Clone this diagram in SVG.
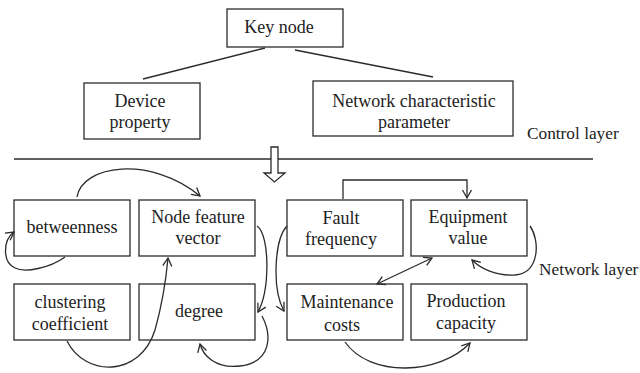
<svg xmlns="http://www.w3.org/2000/svg" width="640" height="373" viewBox="0 0 640 373">
  <style>
    .box { fill: #ffffff; stroke: #2b2b2b; stroke-width: 1.3; }
    .ln { fill: none; stroke: #2b2b2b; stroke-width: 1.3; }
    .txt { font-family: "Liberation Serif", "Times New Roman", serif; font-size: 18px; fill: #222222; text-anchor: middle; }
    .lbl { font-family: "Liberation Serif", "Times New Roman", serif; font-size: 17.3px; fill: #222222; }
  </style>
  <defs>
    <marker id="arr" markerWidth="12" markerHeight="12" refX="9" refY="5" orient="auto-start-reverse" markerUnits="userSpaceOnUse" viewBox="0 0 12 10">
      <path d="M1,0.5 L9,5 L1,9.5" fill="none" stroke="#2b2b2b" stroke-width="1.3"/>
    </marker>
  </defs>

  <!-- control layer -->
  <g id="key-node">
    <rect class="box" x="227" y="9" width="116" height="38"/>
    <text class="txt" x="279" y="33">Key node</text>
  </g>
  <g id="device-property">
    <rect class="box" x="84" y="83" width="116" height="56"/>
    <text class="txt" x="140" y="107">Device</text>
    <text class="txt" x="140" y="128">property</text>
  </g>
  <g id="network-characteristic">
    <rect class="box" x="313" y="81" width="200" height="55"/>
    <text class="txt" x="414" y="107">Network characteristic</text>
    <text class="txt" x="414" y="128">parameter</text>
  </g>
  <text class="lbl" x="527" y="139">Control layer</text>

  <!-- layer divider and hollow down arrow -->
  <line class="ln" x1="14" y1="159" x2="593" y2="159"/>
  <path class="box" d="M271,147 H278 V173 H285 L274.5,182 L264,173 H271 Z"/>

  <!-- network layer nodes -->
  <g id="betweenness">
    <rect class="box" x="14" y="200" width="116" height="56"/>
    <text class="txt" x="72" y="233">betweenness</text>
  </g>
  <g id="node-feature-vector">
    <rect class="box" x="139" y="200" width="116" height="56"/>
    <text class="txt" x="198" y="223">Node feature</text>
    <text class="txt" x="198" y="244">vector</text>
  </g>
  <g id="clustering-coefficient">
    <rect class="box" x="14" y="284" width="116" height="56"/>
    <text class="txt" x="70" y="308">clustering</text>
    <text class="txt" x="70" y="330">coefficient</text>
  </g>
  <g id="degree">
    <rect class="box" x="139" y="284" width="116" height="56"/>
    <text class="txt" x="199" y="317">degree</text>
  </g>
  <g id="fault-frequency">
    <rect class="box" x="287" y="200" width="116" height="56"/>
    <text class="txt" x="341" y="224">Fault</text>
    <text class="txt" x="341" y="245">frequency</text>
  </g>
  <g id="equipment-value">
    <rect class="box" x="411" y="200" width="116" height="56"/>
    <text class="txt" x="468" y="223">Equipment</text>
    <text class="txt" x="468" y="244">value</text>
  </g>
  <g id="maintenance-costs">
    <rect class="box" x="287" y="284" width="116" height="56"/>
    <text class="txt" x="347" y="308">Maintenance</text>
    <text class="txt" x="342" y="331">costs</text>
  </g>
  <g id="production-capacity">
    <rect class="box" x="411" y="284" width="116" height="56"/>
    <text class="txt" x="466" y="307">Production</text>
    <text class="txt" x="466" y="329">capacity</text>
  </g>
  <text class="lbl" x="539" y="275">Network layer</text>

  <!-- connectors -->
  <g id="connectors">
    <line class="ln" x1="265" y1="48" x2="143" y2="79"/>
    <line class="ln" x1="295" y1="50" x2="433" y2="77"/>
    <path class="ln" marker-end="url(#arr)" d="M77,197 C82,165 150,155 200,196"/>
    <path class="ln" marker-end="url(#arr)" d="M65,257 C50,268 25,273 15,268 C2,262 3,240 14,232"/>
    <path class="ln" marker-end="url(#arr)" d="M67,341 C85,377 140,378 155,330 C162,305 166,280 168,258"/>
    <path class="ln" marker-end="url(#arr)" d="M257,226 C270,235 270,290 258,312"/>
    <path class="ln" marker-end="url(#arr)" d="M262,316 C272,335 272,362 240,366 C215,369 203,355 200,344"/>
    <path class="ln" marker-end="url(#arr)" d="M287,226 C274,240 272,290 284,311"/>
    <path class="ln" marker-end="url(#arr)" d="M343,199 V180 H467 V198"/>
    <path class="ln" marker-end="url(#arr)" d="M530,226 C540,240 540,273 515,275 C495,276 480,268 472,260"/>
    <path class="ln" marker-start="url(#arr)" marker-end="url(#arr)" d="M432,258 L377,284"/>
    <path class="ln" marker-end="url(#arr)" d="M345,342 C370,378 440,375 470,343"/>
  </g>
</svg>
